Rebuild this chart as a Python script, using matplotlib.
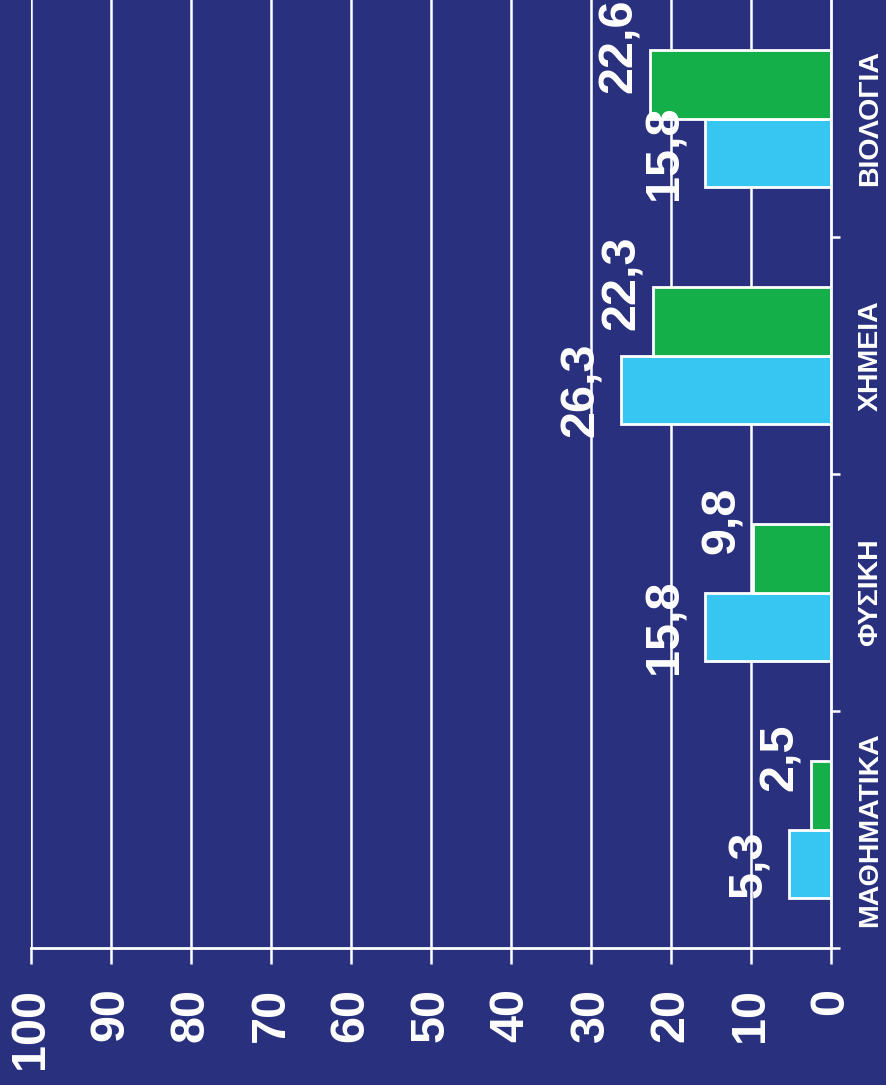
import matplotlib
matplotlib.use("Agg")
import matplotlib.pyplot as plt
from matplotlib import font_manager
import numpy as np

categories = ["ΜΑΘΗΜΑΤΙΚΑ", "ΦΥΣΙΚΗ", "ΧΗΜΕΙΑ", "ΒΙΟΛΟΓΙΑ"]
series_blue = [5.3, 15.8, 26.3, 15.8]
series_green = [2.5, 9.8, 22.3, 22.6]
value_ticks = [0, 10, 20, 30, 40, 50, 60, 70, 80, 90, 100]

BG = "#29317F"
BLUE = "#36C6F1"
GREEN = "#15AF4A"
WHITE = "#FFFFFF"

names = {f.name for f in font_manager.fontManager.ttflist}
main_font = ["Liberation Sans", "DejaVu Sans"]
narrow_font = ["Liberation Sans Narrow", "Liberation Sans", "DejaVu Sans"] if "Liberation Sans Narrow" in names else ["Liberation Sans", "DejaVu Sans"]
plt.rcParams["font.family"] = main_font

fig = plt.figure(figsize=(8.86, 10.85), dpi=100, facecolor=BG)
ax = fig.add_axes([31 / 886, 137 / 1085, (831 - 31) / 886, 948 / 1085])
ax.set_facecolor(BG)

y = np.arange(len(categories))
h = 0.29
ax.barh(y - h / 2, series_blue, height=h, color=BLUE, edgecolor=WHITE, linewidth=2.0, zorder=3)
ax.barh(y + h / 2, series_green, height=h, color=GREEN, edgecolor=WHITE, linewidth=2.0, zorder=3)

ax.set_xlim(100, 0)
ax.set_ylim(-0.5, len(categories) - 0.5)

# grid
for v in value_ticks[1:]:
    ax.axvline(v, color=WHITE, linewidth=1.8, zorder=1)

for s in ["left", "top"]:
    ax.spines[s].set_visible(False)
for s in ["bottom", "right"]:
    ax.spines[s].set_color(WHITE)
    ax.spines[s].set_linewidth(2.0)
    ax.spines[s].set_zorder(4)

ax.set_xticks(value_ticks)
ax.set_xticklabels([str(v) for v in value_ticks], rotation=90, fontsize=35,
                   fontweight="bold", color=WHITE)
ax.tick_params(axis="x", colors=WHITE, length=11.5, width=1.8, pad=17, direction="out")

ax.yaxis.tick_right()
ax.set_yticks(y)
ax.set_yticklabels(categories, rotation=90, fontsize=20.5, fontweight="bold",
                   color=WHITE, family=narrow_font, va="center")
ax.tick_params(axis="y", which="major", length=0, pad=19, colors=WHITE)
ax.set_yticks(np.arange(-0.5, len(categories) - 1, 1.0), minor=True)
ax.tick_params(axis="y", which="minor", length=6.5, width=1.8, colors=WHITE, right=True, left=False)

for i, v in enumerate(series_blue):
    ax.annotate(f"{v:.1f}".replace(".", ","), xy=(v, y[i] - h / 2), xytext=(-17, 0),
                textcoords="offset pixels", rotation=90, ha="right", va="center",
                fontsize=35, fontweight="bold", color=WHITE, zorder=5, annotation_clip=False)
for i, v in enumerate(series_green):
    ax.annotate(f"{v:.1f}".replace(".", ","), xy=(v, y[i] + h / 2), xytext=(-8, 38),
                textcoords="offset pixels", rotation=90, ha="right", va="center",
                fontsize=35, fontweight="bold", color=WHITE, zorder=5, annotation_clip=False)

fig.savefig("out.png", dpi=100, facecolor=BG)
